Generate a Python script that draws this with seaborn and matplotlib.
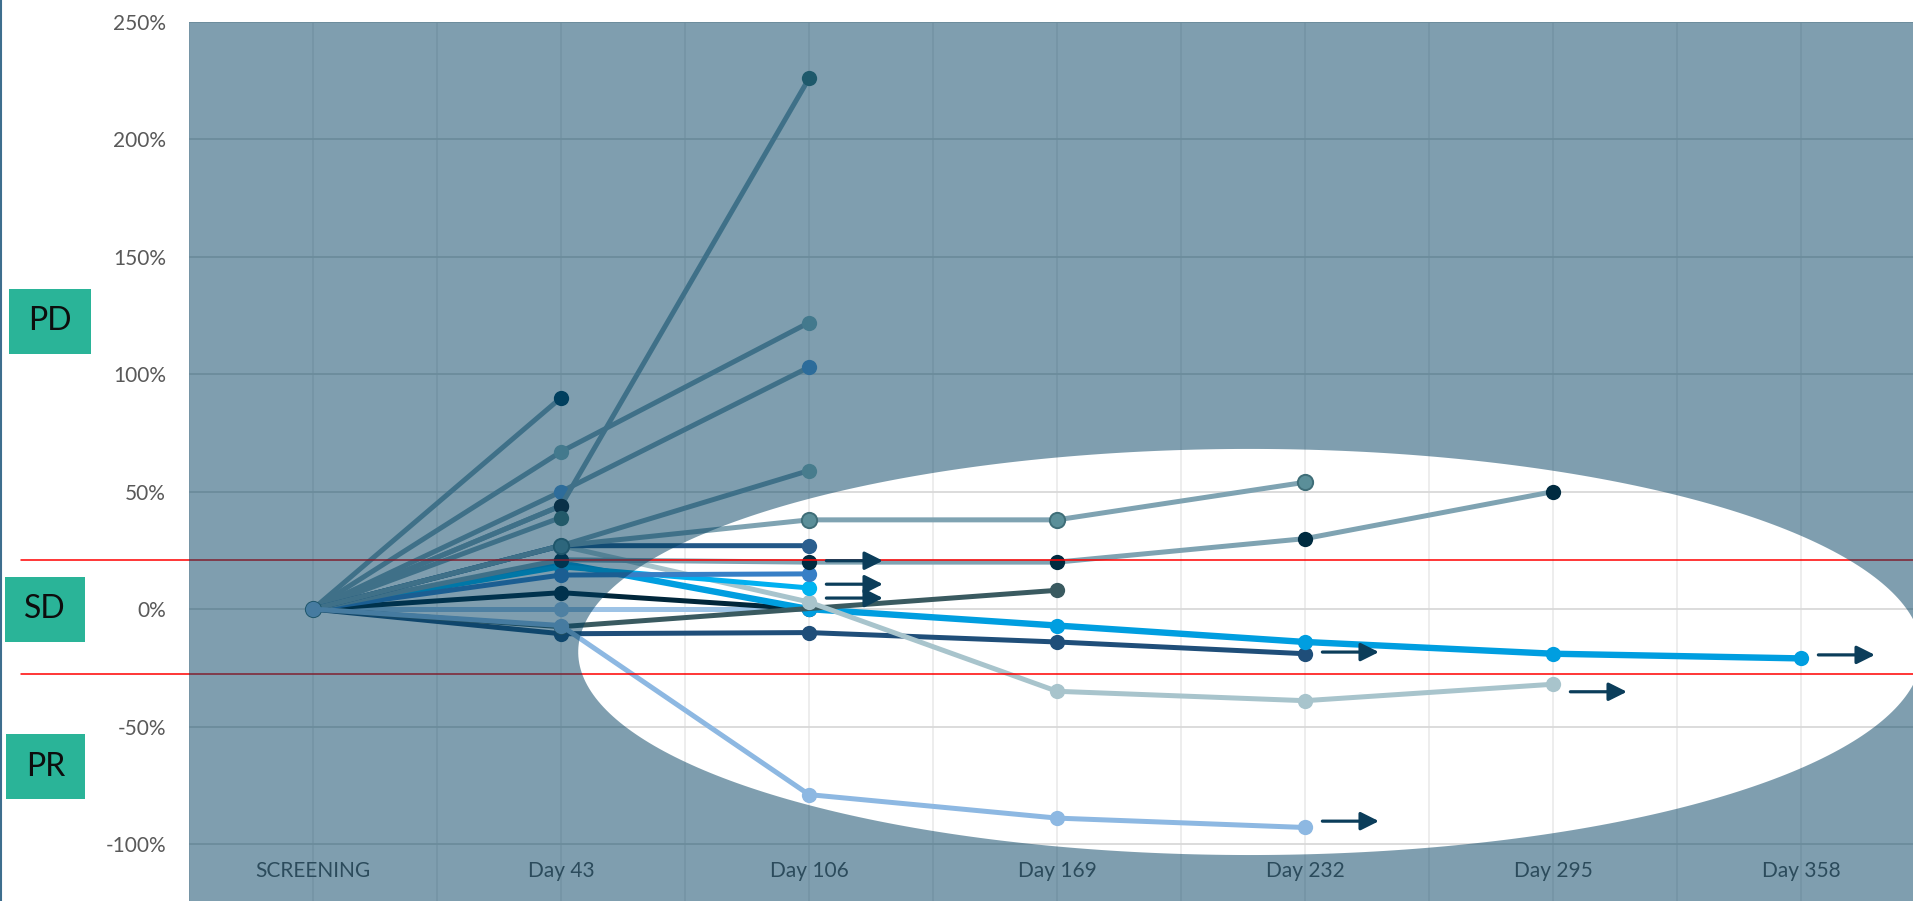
import numpy as np
import pandas as pd
import matplotlib
matplotlib.use("Agg")
import matplotlib.pyplot as plt
from matplotlib.patches import PathPatch, Rectangle
from matplotlib.path import Path
from matplotlib.lines import Line2D
import seaborn as sns

nan = np.nan

# ---- data -------------------------------------------------------------
visits = ["SCREENING", "Day 43", "Day 106", "Day 169", "Day 232", "Day 295", "Day 358"]
y_ticks = [-100, -50, 0, 50, 100, 150, 200, 250]

# percent change in target lesions vs. screening, one list per patient
pd_01 = [0, 90]
pd_02 = [0, 67, 122]
pd_03 = [0, 50, 103]
pd_04 = [0, 44, 226]
pd_05 = [0, 44]
pd_06 = [0, 39]
pd_07 = [0, 27, 59]
sd_01 = [0, 27, 38, 38, 54]
sd_02 = [0, 27, 27]
sd_03 = [0, 21, 20, 20, 30, 50]
sd_04 = [0, 14.5, 15]
sd_05 = [0, 18, 9]
sd_06 = [0, 19.5, 0, -7, -14, -19, -21]
sd_07 = [0, 27, 3, -35, -39, -32]
sd_08 = [0, 7, 0]
sd_09 = [0, 0, 0]
sd_10 = [0, -10.5, -10, -14, -19]
sd_11 = [0, -7.5, nan, 8]
pr_01 = [0, -7, -79, -89, -93]

# response thresholds drawn across the chart
threshold_pd = 20.7
threshold_pr = -27.6

# patients still on treatment: (visit index, level of the arrow)
ongoing_visit = [2, 2, 2, 4, 4, 5, 6]
ongoing_level = [20.6, 10.6, 4.7, -18.3, -90.3, -35.2, -19.5]

# ---- styling ----------------------------------------------------------
GREY_BLUE = "#7fa3b2"
LW = 3.6
series = [
    # name, values, line colour, marker face, marker edge, line width
    ("pd_01", pd_01, GREY_BLUE, "#003f5c", "#003f5c", LW),
    ("pd_02", pd_02, GREY_BLUE, "#88b5bc", "#88b5bc", LW),
    ("pd_03", pd_03, GREY_BLUE, "#5b9bd5", "#5b9bd5", LW),
    ("pd_04", pd_04, GREY_BLUE, "#3e7578", "#3e7578", LW),
    ("pd_05", pd_05, GREY_BLUE, "#14212e", "#14212e", LW),
    ("pd_06", pd_06, GREY_BLUE, "#467574", "#467574", LW),
    ("pd_07", pd_07, GREY_BLUE, "#90bbbc", "#90bbbc", LW),
    ("sd_09", sd_09, "#9dc3e6", "#9dc3e6", "#9dc3e6", LW),
    ("sd_08", sd_08, "#00263a", "#00263a", "#00263a", LW),
    ("sd_10", sd_10, "#1f4e79", "#1f4e79", "#1f4e79", LW),
    ("sd_06", sd_06, "#009ee0", "#009ee0", "#009ee0", 4.6),
    ("sd_11", sd_11, "#3a5a60", "#3a5a60", "#3a5a60", LW),
    ("sd_07", sd_07, "#a8c4cc", "#a8c4cc", "#a8c4cc", LW),
    ("sd_05", sd_05, "#00b0f0", "#00b4f0", "#00b4f0", LW),
    ("sd_04", sd_04, "#377fc6", "#377fc6", "#377fc6", LW),
    ("sd_03", sd_03, GREY_BLUE, "#002b40", "#002b40", LW),
    ("sd_02", sd_02, "#235888", "#2a5f8f", "#2a5f8f", LW),
    ("sd_01", sd_01, GREY_BLUE, "#5b8f99", "#3f6e78", LW),
    ("pr_01", pr_01, "#8db8e2", "#8db8e2", "#8db8e2", LW),
]

W, H = 1913, 901
sns.set_theme(style="white")
plt.rcParams["font.family"] = ["Lato", "DejaVu Sans"]

fig = plt.figure(figsize=(W / 100, H / 100), dpi=100)
fig.patch.set_facecolor("white")
ax = fig.add_axes([189 / W, 0, 1736 / W, 879 / H])
ax.set_facecolor("white")

# ---- patient trajectories --------------------------------------------
for name, vals, lc, mfc, mec, lw in series:
    df = pd.DataFrame({"visit": np.arange(len(vals)), "change": vals}).dropna()
    sns.lineplot(data=df, x="visit", y="change", ax=ax, color=lc, linewidth=lw,
                 marker="o", markersize=11, markerfacecolor=mfc,
                 markeredgecolor=mec, markeredgewidth=1.4 if mec != mfc else 0,
                 estimator=None, sort=False, zorder=3)

# ---- arrows for patients continuing treatment ------------------------
for v, lvl in zip(ongoing_visit, ongoing_level):
    ax.annotate("", xy=(v + 0.298, lvl), xytext=(v + 0.07, lvl),
                arrowprops=dict(arrowstyle="-|>,head_length=1.1,head_width=0.55",
                                mutation_scale=10, color="#0b3d5a", lw=2.3,
                                shrinkA=0, shrinkB=0),
                zorder=5)

# ---- threshold lines, running into the left margin -------------------
for lvl in (threshold_pd, threshold_pr):
    ax.plot([-0.0968, 1.0], [lvl, lvl], transform=ax.get_yaxis_transform(),
            color="#ff0000", lw=1.1, clip_on=False, zorder=4)

# ---- axes, grid, ticks -----------------------------------------------
ax.set_xlim(-0.5, 6.5)
ax.set_ylim(-124.3, 250)
ax.set_xticks(range(len(visits)))
ax.set_xticklabels(visits)
ax.set_xticks(np.arange(-0.5, 6.6, 1.0), minor=True)
ax.set_yticks(y_ticks)
ax.set_yticklabels([f"{t}%" for t in y_ticks])
ax.set_xlabel("")
ax.set_ylabel("")
ax.grid(axis="y", which="major", color="#d9d9d9", lw=1.3)
ax.grid(axis="x", which="both", color="#ececec", lw=1.3)
ax.set_axisbelow(True)
for s in ax.spines.values():
    s.set_visible(False)
ax.tick_params(axis="y", length=0, pad=16.5, labelsize=15, labelcolor="#595959")
ax.tick_params(axis="x", which="both", length=0, pad=-29, labelsize=15,
               labelcolor="#595959")

# ---- translucent panel with an elliptical window ---------------------
cx, cy, a, b = 0.6112, 0.2833, 0.3870, 0.2310
t = np.linspace(0, 2 * np.pi, 400)
ell = np.column_stack([cx + a * np.cos(t), cy - b * np.sin(t)])
rect = np.array([[0, 0], [1, 0], [1, 1], [0, 1], [0, 0]])
verts = np.vstack([rect, ell, ell[:1]])
codes = ([Path.MOVETO] + [Path.LINETO] * 3 + [Path.CLOSEPOLY]
         + [Path.MOVETO] + [Path.LINETO] * (len(ell) - 1) + [Path.CLOSEPOLY])
panel = PathPatch(Path(verts, codes), transform=ax.transAxes,
                  facecolor="#003f60", edgecolor="none", alpha=0.5, zorder=10)
ax.add_patch(panel)

# ---- response category badges ----------------------------------------
badges = [("PD", 9, 289, 91, 354), ("SD", 5, 577, 85, 642), ("PR", 6, 734, 85, 799)]
for label, x0, y0, x1, y1 in badges:
    fig.add_artist(Rectangle((x0 / W, 1 - y1 / H), (x1 - x0) / W, (y1 - y0) / H,
                             transform=fig.transFigure, facecolor="#2ab498",
                             edgecolor="none"))
    fig.text((x0 + x1) / 2 / W, 1 - (y0 + y1) / 2 / H, label, ha="center",
             va="center", fontsize=23, color="#0d0d0d")

fig.add_artist(Line2D([1 / W, 1 / W], [0, 1], transform=fig.transFigure,
                      color="#3e6e8e", lw=1.5))

fig.savefig("out.png", dpi=100)
